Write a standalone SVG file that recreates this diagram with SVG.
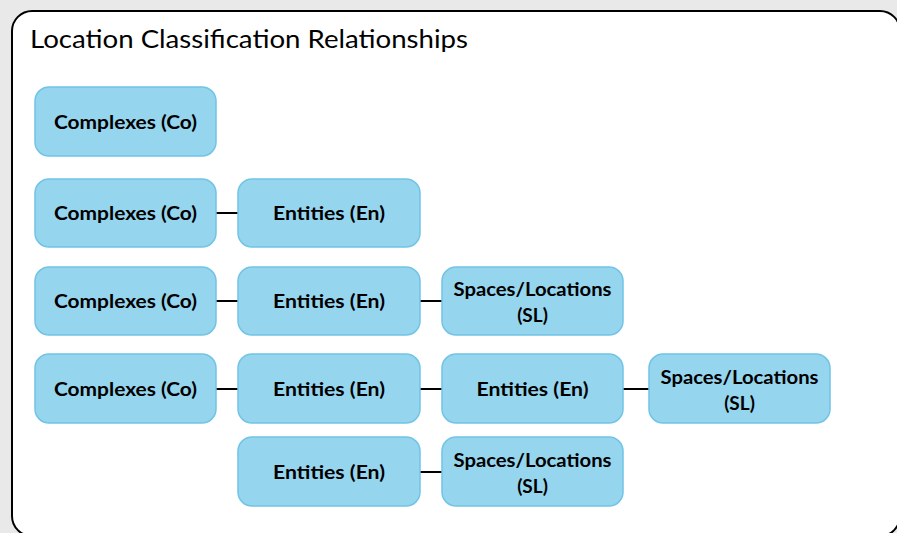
<svg xmlns="http://www.w3.org/2000/svg" width="897" height="533" viewBox="0 0 897 533">
  <style>
    .node rect { fill: #96d5ee; stroke: #72c4e6; stroke-width: 1.5; }
    .node text { font-family: Lato, "Open Sans", sans-serif; font-weight: bold; font-size: 19px; fill: #000; text-anchor: middle; }
    .title { font-family: Lato, "Open Sans", sans-serif; font-size: 25px; fill: #000; }
    .links line { stroke: #000; stroke-width: 2; }
  </style>
  <!-- page background and frame -->
  <rect x="0" y="0" width="897" height="533" fill="#e9e9e9"/>
  <rect x="12" y="11" width="888" height="525" rx="20" ry="20" fill="#fff" stroke="#000" stroke-width="2"/>
  <text class="title" x="30" y="48" textLength="438" lengthAdjust="spacingAndGlyphs">Location Classification Relationships</text>

  <!-- connectors -->
  <g id="links" class="links">
    <line x1="216" y1="213" x2="238" y2="213"/>
    <line x1="216" y1="301" x2="238" y2="301"/>
    <line x1="420" y1="301" x2="442" y2="301"/>
    <line x1="216" y1="389" x2="238" y2="389"/>
    <line x1="420" y1="389" x2="442" y2="389"/>
    <line x1="623" y1="389" x2="649" y2="389"/>
    <line x1="420" y1="472" x2="442" y2="472"/>
  </g>

  <!-- row 1 -->
  <g id="co1" class="node"><rect x="35" y="87" width="181" height="69" rx="14"/><text x="125.5" y="129" textLength="143" lengthAdjust="spacingAndGlyphs">Complexes (Co)</text></g>
  <!-- row 2 -->
  <g id="co2" class="node"><rect x="35" y="179" width="181" height="68" rx="14"/><text x="125.5" y="220" textLength="143" lengthAdjust="spacingAndGlyphs">Complexes (Co)</text></g>
  <g id="en2" class="node"><rect x="238" y="179" width="182" height="68" rx="14"/><text x="329" y="220" textLength="112" lengthAdjust="spacingAndGlyphs">Entities (En)</text></g>
  <!-- row 3 -->
  <g id="co3" class="node"><rect x="35" y="267" width="181" height="68" rx="14"/><text x="125.5" y="308" textLength="143" lengthAdjust="spacingAndGlyphs">Complexes (Co)</text></g>
  <g id="en3" class="node"><rect x="238" y="267" width="182" height="68" rx="14"/><text x="329" y="308" textLength="112" lengthAdjust="spacingAndGlyphs">Entities (En)</text></g>
  <g id="sl3" class="node"><rect x="442" y="267" width="181" height="68" rx="14"/><text x="532.5" y="296" textLength="158" lengthAdjust="spacingAndGlyphs">Spaces/Locations</text><text x="532.5" y="322">(SL)</text></g>
  <!-- row 4 -->
  <g id="co4" class="node"><rect x="35" y="354" width="181" height="69" rx="14"/><text x="125.5" y="396" textLength="143" lengthAdjust="spacingAndGlyphs">Complexes (Co)</text></g>
  <g id="en4" class="node"><rect x="238" y="354" width="182" height="69" rx="14"/><text x="329" y="396" textLength="112" lengthAdjust="spacingAndGlyphs">Entities (En)</text></g>
  <g id="en4b" class="node"><rect x="442" y="354" width="181" height="69" rx="14"/><text x="532.5" y="396" textLength="112" lengthAdjust="spacingAndGlyphs">Entities (En)</text></g>
  <g id="sl4" class="node"><rect x="649" y="354" width="181" height="69" rx="14"/><text x="739.5" y="384" textLength="158" lengthAdjust="spacingAndGlyphs">Spaces/Locations</text><text x="739.5" y="410">(SL)</text></g>
  <!-- row 5 -->
  <g id="en5" class="node"><rect x="238" y="437" width="182" height="69" rx="14"/><text x="329" y="479" textLength="112" lengthAdjust="spacingAndGlyphs">Entities (En)</text></g>
  <g id="sl5" class="node"><rect x="442" y="437" width="181" height="69" rx="14"/><text x="532.5" y="467" textLength="158" lengthAdjust="spacingAndGlyphs">Spaces/Locations</text><text x="532.5" y="493">(SL)</text></g>
</svg>
